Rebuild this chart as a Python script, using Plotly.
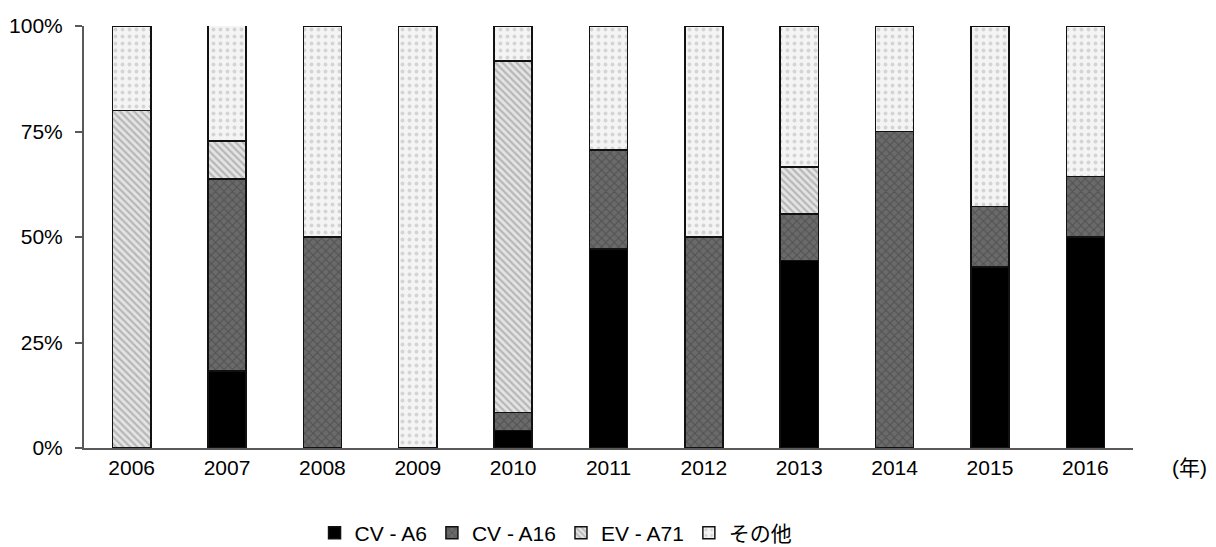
import plotly.graph_objects as go

years = ["2006", "2007", "2008", "2009", "2010", "2011", "2012", "2013", "2014", "2015", "2016"]
series_names = ["CV - A6", "CV - A16", "EV - A71", "その他"]

# share of each type per year (%)
cv_a6 = [0, 18.2, 0, 0, 4.2, 47.1, 0, 44.4, 0, 42.9, 50.0]
cv_a16 = [0, 45.5, 50.0, 0, 4.2, 23.5, 50.0, 11.1, 75.0, 14.3, 14.3]
ev_a71 = [80.0, 9.1, 0, 0, 83.3, 0, 0, 11.1, 0, 0, 0]
other = [20.0, 27.3, 50.0, 100.0, 8.3, 29.4, 50.0, 33.4, 25.0, 42.8, 35.7]

tick_vals = [0, 25, 50, 75, 100]
tick_text = ["0%", "25%", "50%", "75%", "100%"]

FONT = "Liberation Sans, Arial, Noto Sans CJK JP, sans-serif"

styles = [
    dict(color="#000000", pattern=dict(shape="")),
    dict(color="#6a6a6a", pattern=dict(shape="x", fgcolor="#3a3a3a", size=6, solidity=0.35)),
    dict(color="#e4e4e4", pattern=dict(shape="\\", fgcolor="#8a8a8a", size=5, solidity=0.45)),
    dict(color="#f4f4f4", pattern=dict(shape=".", fgcolor="#b4b4b4", size=7, solidity=0.25)),
]

fig = go.Figure()
for name, vals, st in zip(series_names, [cv_a6, cv_a16, ev_a71, other], styles):
    fig.add_trace(go.Bar(
        x=years, y=vals, name=name,
        marker=dict(color=st["color"], pattern=st["pattern"],
                    line=dict(color="#111111", width=1.5)),
    ))

fig.update_layout(
    barmode="stack",
    bargap=0.6,
    width=1216, height=547,
    margin=dict(l=84, r=83, t=26, b=99, autoexpand=False),
    plot_bgcolor="white", paper_bgcolor="white",
    font=dict(family=FONT, size=21, color="#000000"),
    showlegend=True,
    legend=dict(orientation="h", x=0.45, xanchor="center", y=-0.25, yanchor="bottom",
                font=dict(size=21), traceorder="normal", itemwidth=30),
    xaxis=dict(showline=True, linecolor="#595959", linewidth=2, ticks="",
               tickfont=dict(size=21), showgrid=False),
    yaxis=dict(range=[0, 100], tickvals=tick_vals, ticktext=tick_text,
               showline=True, linecolor="#595959", linewidth=2,
               ticks="outside", ticklen=7, tickcolor="#595959", tickwidth=2,
               ticklabelstandoff=8,
               showgrid=False, zeroline=False, tickfont=dict(size=21)),
    annotations=[dict(text="(年)", xref="paper", yref="paper", x=1.054, y=-0.047,
                      xanchor="center", yanchor="middle", showarrow=False,
                      font=dict(size=21))],
)

fig.write_html("out.html")
